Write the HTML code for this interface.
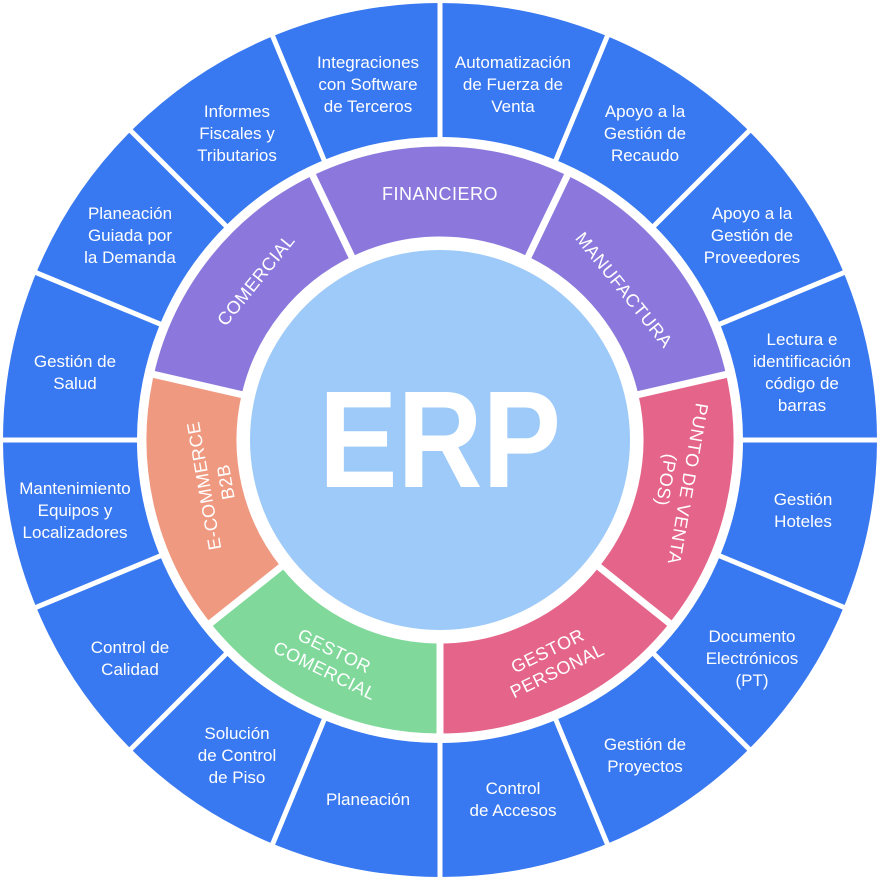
<!DOCTYPE html>
<html><head><meta charset="utf-8"><style>
html,body{margin:0;padding:0;background:#fff;}
svg{display:block;}
.o{font-family:"Liberation Sans",sans-serif;font-size:17px;fill:#fff;text-anchor:middle;}
.m{font-family:"Liberation Sans",sans-serif;font-size:18px;fill:#fff;text-anchor:middle;letter-spacing:0.5px;}
</style></head><body>
<svg width="881" height="881" viewBox="0 0 881 881" xmlns="http://www.w3.org/2000/svg">
<rect width="881" height="881" fill="#fff"/>
<circle cx="440" cy="440" r="370" fill="none" stroke="#3878f0" stroke-width="134"/>
<g stroke="#fff" stroke-width="5">
<line x1="440" y1="140" x2="440" y2="0" transform="rotate(0 440 440)"/>
<line x1="440" y1="140" x2="440" y2="0" transform="rotate(22.5 440 440)"/>
<line x1="440" y1="140" x2="440" y2="0" transform="rotate(45 440 440)"/>
<line x1="440" y1="140" x2="440" y2="0" transform="rotate(67.5 440 440)"/>
<line x1="440" y1="140" x2="440" y2="0" transform="rotate(90 440 440)"/>
<line x1="440" y1="140" x2="440" y2="0" transform="rotate(112.5 440 440)"/>
<line x1="440" y1="140" x2="440" y2="0" transform="rotate(135 440 440)"/>
<line x1="440" y1="140" x2="440" y2="0" transform="rotate(157.5 440 440)"/>
<line x1="440" y1="140" x2="440" y2="0" transform="rotate(180 440 440)"/>
<line x1="440" y1="140" x2="440" y2="0" transform="rotate(202.5 440 440)"/>
<line x1="440" y1="140" x2="440" y2="0" transform="rotate(225 440 440)"/>
<line x1="440" y1="140" x2="440" y2="0" transform="rotate(247.5 440 440)"/>
<line x1="440" y1="140" x2="440" y2="0" transform="rotate(270 440 440)"/>
<line x1="440" y1="140" x2="440" y2="0" transform="rotate(292.5 440 440)"/>
<line x1="440" y1="140" x2="440" y2="0" transform="rotate(315 440 440)"/>
<line x1="440" y1="140" x2="440" y2="0" transform="rotate(337.5 440 440)"/>
</g>
<circle cx="440" cy="440" r="298" fill="#fff"/>
<g fill="none" stroke-width="90">
<circle cx="440" cy="440" r="248.5" stroke="#8c78dc" stroke-dasharray="223.2 2000" transform="rotate(244.3 440 440)"/>
<circle cx="440" cy="440" r="248.5" stroke="#8c78dc" stroke-dasharray="223.2 2000" transform="rotate(-64.3 440 440)"/>
<circle cx="440" cy="440" r="248.5" stroke="#e5648a" stroke-dasharray="223.2 2000" transform="rotate(-12.9 440 440)"/>
<circle cx="440" cy="440" r="248.5" stroke="#e5648a" stroke-dasharray="223.2 2000" transform="rotate(38.6 440 440)"/>
<circle cx="440" cy="440" r="248.5" stroke="#80d99a" stroke-dasharray="223.2 2000" transform="rotate(90 440 440)"/>
<circle cx="440" cy="440" r="248.5" stroke="#ef9a80" stroke-dasharray="223.2 2000" transform="rotate(141.4 440 440)"/>
<circle cx="440" cy="440" r="248.5" stroke="#8c78dc" stroke-dasharray="223.2 2000" transform="rotate(192.9 440 440)"/>
</g>
<g stroke="#fff" stroke-width="7">
<line x1="440" y1="240" x2="440" y2="142" transform="rotate(-25.7 440 440)"/>
<line x1="440" y1="240" x2="440" y2="142" transform="rotate(25.7 440 440)"/>
<line x1="440" y1="240" x2="440" y2="142" transform="rotate(77.1 440 440)"/>
<line x1="440" y1="240" x2="440" y2="142" transform="rotate(128.6 440 440)"/>
<line x1="440" y1="240" x2="440" y2="142" transform="rotate(180 440 440)"/>
<line x1="440" y1="240" x2="440" y2="142" transform="rotate(231.4 440 440)"/>
<line x1="440" y1="240" x2="440" y2="142" transform="rotate(282.9 440 440)"/>
</g>
<circle cx="440" cy="440" r="190" fill="#9dcaf8"/>
<text x="440" y="487" font-family="Liberation Sans,sans-serif" font-weight="bold" font-size="138" fill="#fff" text-anchor="middle" textLength="242" lengthAdjust="spacingAndGlyphs">ERP</text>

<g class="m">
<text x="440" y="200">FINANCIERO</text>
<text transform="translate(624,290) rotate(51)" y="6">MANUFACTURA</text>
<text transform="translate(256,280) rotate(-51)" y="6">COMERCIAL</text>
<text transform="translate(678,482) rotate(100)"><tspan x="0" y="-4">PUNTO DE VENTA</tspan><tspan x="0" y="18">(POS)</tspan></text>
<text transform="translate(552,660) rotate(-26)"><tspan x="0" y="-4">GESTOR</tspan><tspan x="0" y="18">PERSONAL</tspan></text>
<text transform="translate(330,660) rotate(26)"><tspan x="0" y="-4">GESTOR</tspan><tspan x="0" y="18">COMERCIAL</tspan></text>
<text transform="translate(214,484) rotate(-100)"><tspan x="0" y="-4">E-COMMERCE</tspan><tspan x="0" y="18">B2B</tspan></text>
</g>

<g class="o">
<text><tspan x="368" y="68">Integraciones</tspan><tspan x="368" y="90">con Software</tspan><tspan x="368" y="112">de Terceros</tspan></text>
<text><tspan x="513" y="68">Automatización</tspan><tspan x="513" y="90">de Fuerza de</tspan><tspan x="513" y="112">Venta</tspan></text>
<text><tspan x="645" y="117">Apoyo a la</tspan><tspan x="645" y="139">Gestión de</tspan><tspan x="645" y="161">Recaudo</tspan></text>
<text><tspan x="752" y="219">Apoyo a la</tspan><tspan x="752" y="241">Gestión de</tspan><tspan x="752" y="263">Proveedores</tspan></text>
<text><tspan x="802" y="345">Lectura e</tspan><tspan x="802" y="367">identificación</tspan><tspan x="802" y="389">código de</tspan><tspan x="802" y="411">barras</tspan></text>
<text><tspan x="803" y="505">Gestión</tspan><tspan x="803" y="527">Hoteles</tspan></text>
<text><tspan x="752" y="642">Documento</tspan><tspan x="752" y="664">Electrónicos</tspan><tspan x="752" y="686">(PT)</tspan></text>
<text><tspan x="645" y="750">Gestión de</tspan><tspan x="645" y="772">Proyectos</tspan></text>
<text><tspan x="513" y="794">Control</tspan><tspan x="513" y="816">de Accesos</tspan></text>
<text><tspan x="368" y="805">Planeación</tspan></text>
<text><tspan x="237" y="739">Solución</tspan><tspan x="237" y="761">de Control</tspan><tspan x="237" y="783">de Piso</tspan></text>
<text><tspan x="130" y="653">Control de</tspan><tspan x="130" y="675">Calidad</tspan></text>
<text><tspan x="75" y="494">Mantenimiento</tspan><tspan x="75" y="516">Equipos y</tspan><tspan x="75" y="538">Localizadores</tspan></text>
<text><tspan x="75" y="367">Gestión de</tspan><tspan x="75" y="389">Salud</tspan></text>
<text><tspan x="130" y="219">Planeación</tspan><tspan x="130" y="241">Guiada por</tspan><tspan x="130" y="263">la Demanda</tspan></text>
<text><tspan x="237" y="117">Informes</tspan><tspan x="237" y="139">Fiscales y</tspan><tspan x="237" y="161">Tributarios</tspan></text>
</g>
</svg>
</body></html>
